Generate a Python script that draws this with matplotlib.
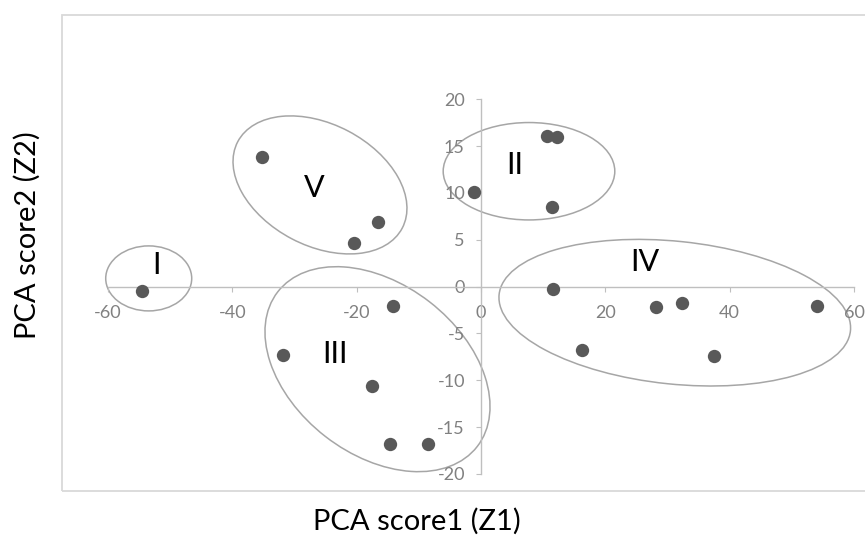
import matplotlib
matplotlib.use("Agg")
import matplotlib.pyplot as plt
from matplotlib.patches import Ellipse, Rectangle
from matplotlib.transforms import ScaledTranslation

# PCA スコア (読み取り値)
z1 = [-54.5, -35.2, -20.4, -16.5, -14.1, -1.1, 10.6, 12.2, 11.5, 11.6,
      16.3, 28.1, 32.4, 37.4, 54.0, -31.8, -17.5, -14.6, -8.6]
z2 = [-0.5, 13.8, 4.7, 6.9, -2.1, 10.1, 16.1, 16.0, 8.5, -0.3,
      -6.8, -2.2, -1.7, -7.4, -2.1, -7.3, -10.6, -16.8, -16.8]

x_ticks = [-60, -40, -20, 0, 20, 40, 60]
y_ticks = [-20, -15, -10, -5, 0, 5, 10, 15, 20]

# グループ名と位置
group_names = ["I", "II", "III", "IV", "V"]
group_label_x = [-52.2, 5.5, -23.5, 26.4, -26.8]
group_label_y = [2.3, 13.0, -7.2, 2.6, 10.5]

# 囲み楕円: 中心(データ座標), 半径(px), 角度
ell_cx = [-53.45, 7.72, -16.65, 31.17, -25.9]
ell_cy = [0.88, 12.32, -8.81, -2.78, 10.86]
ell_a = [43, 85.8, 126.2, 176.6, 92.9]
ell_b = [32.5, 48.7, 85.1, 71.4, 60.8]
ell_ang = [0, 0, -37.8, -5.9, -27.7]

plt.rcParams['font.family'] = ['Lato', 'DejaVu Sans']
plt.rcParams['axes.unicode_minus'] = False

fig = plt.figure(figsize=(8.65, 5.43), dpi=100)
ax = fig.add_axes([108 / 865, (543 - 474) / 543, 746 / 865, 374.7 / 543])
ax.set_xlim(-60, 60)
ax.set_ylim(-20, 20)

# 外枠
fig.patches.append(Rectangle((62 / 865, 1 - 491 / 543), 1.0, (491 - 15) / 543,
                             transform=fig.transFigure, fill=False,
                             edgecolor='#d9d9d9', linewidth=1.3, zorder=0))

for side in ['top', 'right']:
    ax.spines[side].set_visible(False)
for side in ['left', 'bottom']:
    ax.spines[side].set_position('zero')
    ax.spines[side].set_color('#bfbfbf')
    ax.spines[side].set_linewidth(1.0)

ax.set_xticks(x_ticks)
ax.set_yticks(y_ticks)
ax.tick_params(axis='x', direction='out', length=3.6, width=0.8, color='#bfbfbf',
               labelcolor='#808080', labelsize=13, pad=9.5)
ax.tick_params(axis='y', direction='out', length=3.6, width=0.8, color='#bfbfbf',
               labelcolor='#808080', labelsize=13, pad=8)
ax.patch.set_visible(False)

ax.scatter(z1, z2, s=92, color='#595959', zorder=3, linewidths=0)

for cx, cy, a, b, ang in zip(ell_cx, ell_cy, ell_a, ell_b, ell_ang):
    tr = fig.dpi_scale_trans + ScaledTranslation(cx, cy, ax.transData)
    e = Ellipse((0, 0), 2 * a / 100, 2 * b / 100, angle=ang, transform=tr,
                fill=False, edgecolor='#a6a6a6', linewidth=1.1, clip_on=False)
    ax.add_patch(e)

for name, lx, ly in zip(group_names, group_label_x, group_label_y):
    ax.text(lx, ly, name, fontsize=22, color='black', ha='center', va='center')

fig.text(417 / 865, 1 - 521 / 543, "PCA score1 (Z1)", fontsize=21,
         ha='center', va='center', color='black')
fig.text(27 / 865, 1 - 235 / 543, "PCA score2 (Z2)", fontsize=21,
         ha='center', va='center', rotation=90, color='black')

fig.savefig("out.png", dpi=100)
